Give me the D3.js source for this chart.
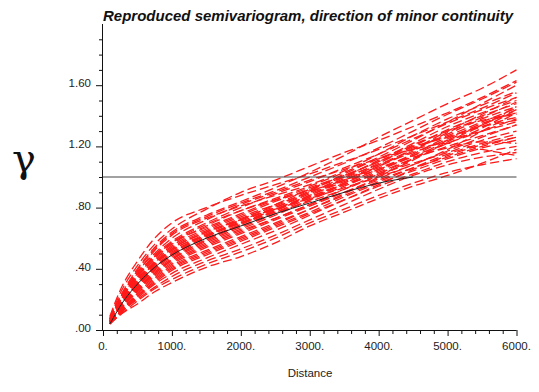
<!DOCTYPE html>
<html>
<head>
<meta charset="utf-8">
<script src="https://cdn.jsdelivr.net/npm/d3@7"></script>
<style>
    body { margin: 0; background: #fff; }
    svg { display: block; font-family: "Liberation Sans", Arial, sans-serif; }
</style>
</head>
<body>
<svg id="visualisation" width="539" height="392"></svg>
<script>
// lag distances where each realization's variogram was computed
var lags = [100, 250, 500, 750, 1000, 1500, 2000, 2500, 3000, 3500, 4000, 4500, 5000, 5500, 6000];

// reproduced semivariograms, one row per realization
var realizations = [
    [.09, .26, .45, .60, .70, .80, .88, .95, 1.02, 1.10, 1.18, 1.27, 1.36, 1.45, 1.55],
    [.08, .24, .42, .56, .66, .79, .90, .98, 1.07, 1.16, 1.24, 1.33, 1.42, 1.52, 1.63],
    [.08, .22, .40, .54, .64, .75, .84, .93, 1.03, 1.14, 1.26, 1.37, 1.48, 1.58, 1.70],
    [.07, .21, .38, .50, .60, .72, .82, .90, .98, 1.05, 1.12, 1.18, 1.22, 1.18, 1.14],
    [.07, .20, .36, .49, .58, .70, .80, .89, .97, 1.06, 1.15, 1.25, 1.35, 1.44, 1.52],
    [.07, .19, .35, .47, .56, .68, .78, .86, .94, 1.03, 1.13, 1.24, 1.36, 1.48, 1.60],
    [.06, .18, .34, .46, .55, .66, .75, .84, .92, 1.00, 1.08, 1.16, 1.24, 1.30, 1.36],
    [.06, .18, .33, .45, .54, .65, .74, .82, .90, .99, 1.09, 1.20, 1.31, 1.40, 1.48],
    [.06, .17, .32, .44, .52, .63, .72, .80, .89, .98, 1.06, 1.14, 1.22, 1.32, 1.44],
    [.06, .17, .31, .43, .51, .62, .71, .80, .90, 1.00, 1.11, 1.22, 1.33, 1.42, 1.50],
    [.06, .16, .30, .42, .50, .61, .70, .79, .87, .95, 1.02, 1.09, 1.16, 1.24, 1.30],
    [.05, .16, .30, .41, .49, .60, .69, .78, .88, .98, 1.08, 1.18, 1.28, 1.38, 1.46],
    [.05, .15, .29, .40, .48, .59, .68, .77, .86, .95, 1.04, 1.14, 1.25, 1.35, 1.42],
    [.05, .15, .28, .39, .47, .58, .67, .76, .85, .94, 1.03, 1.12, 1.20, 1.27, 1.34],
    [.05, .14, .27, .38, .46, .57, .66, .75, .85, .96, 1.07, 1.18, 1.30, 1.41, 1.52],
    [.05, .14, .27, .37, .45, .56, .65, .73, .82, .90, .98, 1.06, 1.13, 1.20, 1.26],
    [.05, .13, .26, .36, .44, .55, .64, .73, .82, .92, 1.02, 1.12, 1.22, 1.30, 1.38],
    [.05, .13, .25, .35, .43, .54, .63, .72, .81, .90, .99, 1.08, 1.17, 1.26, 1.34],
    [.04, .12, .24, .34, .42, .52, .61, .70, .79, .88, .97, 1.06, 1.15, 1.22, 1.28],
    [.04, .12, .23, .33, .41, .51, .60, .69, .79, .89, 1.00, 1.12, 1.24, 1.34, 1.44],
    [.04, .12, .22, .31, .39, .49, .58, .67, .76, .85, .94, 1.02, 1.10, 1.16, 1.20],
    [.04, .11, .21, .30, .37, .47, .56, .65, .75, .85, .95, 1.05, 1.14, 1.21, 1.26],
    [.04, .11, .20, .28, .35, .45, .53, .62, .72, .82, .92, 1.01, 1.08, 1.13, 1.16],
    [.04, .10, .19, .27, .33, .43, .51, .60, .70, .79, .88, .96, 1.03, 1.08, 1.12],
    [.04, .10, .17, .25, .31, .41, .48, .57, .68, .77, .86, .94, 1.01, 1.09, 1.18],
    [.05, .16, .31, .44, .53, .64, .72, .79, .86, .93, 1.00, 1.08, 1.18, 1.30, 1.42],
    [.06, .19, .37, .52, .62, .73, .81, .88, .95, 1.04, 1.15, 1.27, 1.38, 1.47, 1.56],
    [.05, .14, .28, .40, .49, .61, .72, .82, .92, 1.01, 1.10, 1.19, 1.27, 1.36, 1.45],
    [.07, .20, .37, .48, .57, .67, .76, .85, .93, 1.01, 1.10, 1.21, 1.30, 1.37, 1.41],
    [.06, .17, .33, .44, .53, .64, .73, .81, .91, 1.02, 1.12, 1.20, 1.26, 1.34, 1.46],
    [.05, .15, .29, .41, .50, .62, .70, .77, .84, .92, 1.01, 1.11, 1.23, 1.33, 1.39],
    [.06, .18, .35, .48, .57, .69, .78, .85, .91, .98, 1.07, 1.17, 1.29, 1.39, 1.49],
    [.05, .14, .26, .37, .46, .59, .69, .79, .88, .97, 1.05, 1.13, 1.19, 1.23, 1.22],
    [.07, .21, .39, .53, .63, .74, .83, .91, 1.00, 1.09, 1.19, 1.30, 1.41, 1.51, 1.62],
    [.04, .11, .22, .32, .40, .50, .59, .68, .77, .87, .96, 1.04, 1.12, 1.19, 1.24],
    [.06, .16, .31, .43, .52, .62, .70, .78, .87, .96, 1.05, 1.15, 1.26, 1.33, 1.37]
];

// variogram model (black curve)
var modelLags = [100, 300, 500, 750, 1000, 1250, 1500, 2000, 2500, 3000, 3500, 4000, 4500];
var modelGamma = [0.04, 0.19, 0.30, 0.41, 0.49, 0.55, 0.60, 0.68, 0.76, 0.83, 0.90, 0.96, 1.0];

var sill = 1.0;
var xTickValues = [0, 1000, 2000, 3000, 4000, 5000, 6000];
var xTickLabels = ["0.", "1000.", "2000.", "3000.", "4000.", "5000.", "6000."];
var yTickValues = [0, 0.4, 0.8, 1.2, 1.6];
var yTickLabels = [".00", ".40", ".80", "1.20", "1.60"];

function InitChart() {
    var vis = d3.select("#visualisation"),
        LEFT = 103,
        RIGHT = 516.5,
        BOTTOM = 330,
        TOP = 24,
        xScale = d3.scaleLinear().range([LEFT, RIGHT]).domain([0, 6000]),
        yScale = d3.scaleLinear().range([BOTTOM, TOP]).domain([0, 2.0]);

    // title
    vis.append("text")
        .attr("x", 103)
        .attr("y", 21)
        .attr("font-size", "15px")
        .attr("font-weight", "bold")
        .attr("font-style", "italic")
        .attr("fill", "#111")
        .text("Reproduced semivariogram, direction of minor continuity");

    var lineGen = d3.line()
        .x(function(d) { return xScale(d[0]); })
        .y(function(d) { return yScale(d[1]); })
        .curve(d3.curveMonotoneX);

    // realizations
    vis.append("g")
        .selectAll("path")
        .data(realizations)
        .enter().append("path")
        .attr("d", function(row) {
            return lineGen(row.map(function(v, i) { return [lags[i], v]; }));
        })
        .attr("fill", "none")
        .attr("stroke", "#ff1a1a")
        .attr("stroke-width", 1.3)
        .attr("stroke-dasharray", "9,4");

    // sill
    vis.append("line")
        .attr("x1", xScale(0))
        .attr("x2", xScale(6000))
        .attr("y1", yScale(sill))
        .attr("y2", yScale(sill))
        .attr("stroke", "#444")
        .attr("stroke-width", 1.2);

    // model
    vis.append("path")
        .attr("d", lineGen(modelLags.map(function(l, i) { return [l, modelGamma[i]]; })))
        .attr("fill", "none")
        .attr("stroke", "#222")
        .attr("stroke-width", 1);

    // x axis
    var xAxis = d3.axisBottom(xScale)
        .tickValues(d3.range(0, 6001, 200))
        .tickSize(4)
        .tickFormat("");
    var gx = vis.append("g")
        .attr("class", "x axis")
        .attr("transform", "translate(0," + BOTTOM + ")")
        .call(xAxis);
    gx.select(".domain").attr("d", "M" + LEFT + ",0.5H" + RIGHT);
    gx.selectAll(".tick line")
        .attr("y2", function(d) { return d % 1000 === 0 ? 6 : 4; });
    gx.selectAll(".label")
        .data(xTickValues)
        .enter().append("text")
        .attr("x", function(d) { return xScale(d); })
        .attr("y", 20)
        .attr("text-anchor", "middle")
        .attr("font-size", "11.5px")
        .attr("fill", "#222")
        .text(function(d, i) { return xTickLabels[i]; });

    // y axis
    var yAxis = d3.axisLeft(yScale)
        .tickValues(d3.range(0, 19.5, 1).map(function(v) { return v / 10; }))
        .tickSize(4)
        .tickFormat("");
    var gy = vis.append("g")
        .attr("class", "y axis")
        .attr("transform", "translate(" + LEFT + ",0)")
        .call(yAxis);
    gy.select(".domain").attr("d", "M-0.5," + (BOTTOM + 0.5) + "V" + TOP);
    gy.selectAll(".tick line")
        .attr("x2", function(d) { return Math.round(d * 10) % 4 === 0 ? -7 : -4; });
    gy.selectAll(".label")
        .data(yTickValues)
        .enter().append("text")
        .attr("x", -12)
        .attr("y", function(d) { return yScale(d) + 2; })
        .attr("text-anchor", "end")
        .attr("font-size", "11.5px")
        .attr("fill", "#222")
        .text(function(d, i) { return yTickLabels[i]; });

    vis.selectAll(".axis path, .axis line").attr("stroke", "#111");

    // axis titles
    vis.append("text")
        .attr("x", 310)
        .attr("y", 377)
        .attr("text-anchor", "middle")
        .attr("font-size", "11.5px")
        .attr("fill", "#222")
        .text("Distance");
    vis.append("text")
        .attr("x", 24)
        .attr("y", 172)
        .attr("text-anchor", "middle")
        .attr("font-family", "'DejaVu Serif', 'Liberation Serif', serif")
        .attr("font-size", "40px")
        .attr("fill", "#111")
        .text("γ");
}
InitChart();
</script>
</body>
</html>
